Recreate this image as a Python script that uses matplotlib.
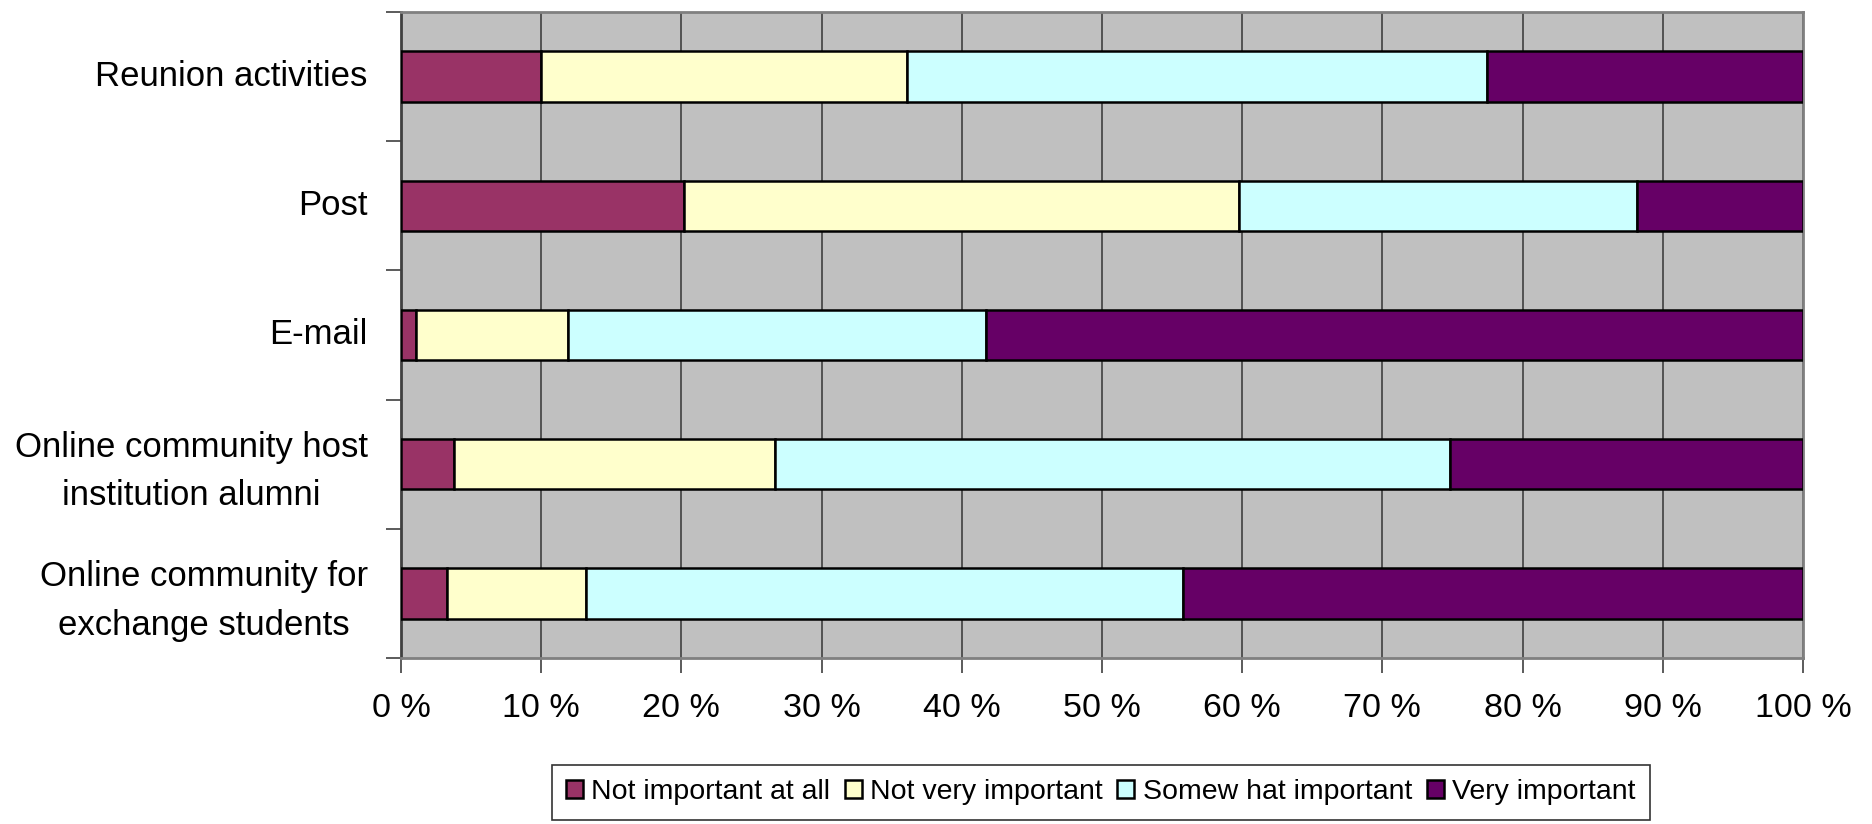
import numpy as np
import matplotlib.pyplot as plt
from matplotlib.ticker import FixedLocator

plt.rcParams['font.family'] = ['Liberation Sans', 'DejaVu Sans']

# Channels (top to bottom) and share of answers per importance level, in %
channels = ["Reunion activities", "Post", "E-mail",
            "Online community host\ninstitution alumni",
            "Online community for\nexchange students"]
not_at_all = [10.0, 20.2, 1.1, 3.8, 3.3]
not_very = [26.1, 39.6, 10.8, 22.9, 9.9]
somewhat = [41.4, 28.4, 29.8, 48.1, 42.6]
very = [22.5, 11.8, 58.3, 25.2, 44.2]
colors = ["#993366", "#FFFFCC", "#CCFFFF", "#660066"]
legend_labels = ["Not important at all", "Not very important",
                 "Somew hat important", "Very important"]

fig = plt.figure(figsize=(18.72, 8.24), dpi=100)
ax = fig.add_axes([0.2142, 0.2015, 0.7489, 0.7839])
ax.set_facecolor("#C0C0C0")

y = np.arange(len(channels))[::-1]
left = np.zeros(len(channels))
for vals, col, lab in zip([not_at_all, not_very, somewhat, very], colors, legend_labels):
    vals = np.array(vals)
    ax.barh(y, vals, left=left, height=0.39, color=col, edgecolor="black",
            linewidth=1.8, label=lab, zorder=3)
    left += vals

ax.set_xlim(0, 100)
ax.set_ylim(-0.5, len(channels) - 0.5)

ax.set_xticks(np.arange(0, 101, 10))
ax.set_xticklabels([f"{v} %" for v in range(0, 101, 10)], fontsize=24.5)
ax.xaxis.grid(True, color="#404040", linewidth=1.2, zorder=0)
ax.set_axisbelow(True)
ax.tick_params(axis="x", length=11, width=1.2, color="#404040", pad=14)

# labels at bar centres, tick marks at category boundaries
ax.set_yticks(y + 0.03)
ax.set_yticklabels(channels, fontsize=25, linespacing=1.6, multialignment="center")
ax.tick_params(axis="y", which="major", length=0, pad=24)
ax.yaxis.set_minor_locator(FixedLocator(np.arange(-0.5, len(channels), 1)))
ax.tick_params(axis="y", which="minor", length=11, width=1.2, color="#404040")

for s in ["left", "bottom", "top", "right"]:
    ax.spines[s].set_color("#808080")
    ax.spines[s].set_linewidth(2)
ax.spines["left"].set_color("#404040")

leg = fig.legend(loc="lower center", bbox_to_anchor=(0.588, -0.012), ncol=4,
                 fontsize=20.5, frameon=True, fancybox=False, edgecolor="black",
                 handlelength=0.6, handleheight=0.6, handletextpad=0.3,
                 columnspacing=0.5, borderpad=0.5)
leg.get_frame().set_linewidth(1.2)

fig.savefig("out.png", dpi=100)
